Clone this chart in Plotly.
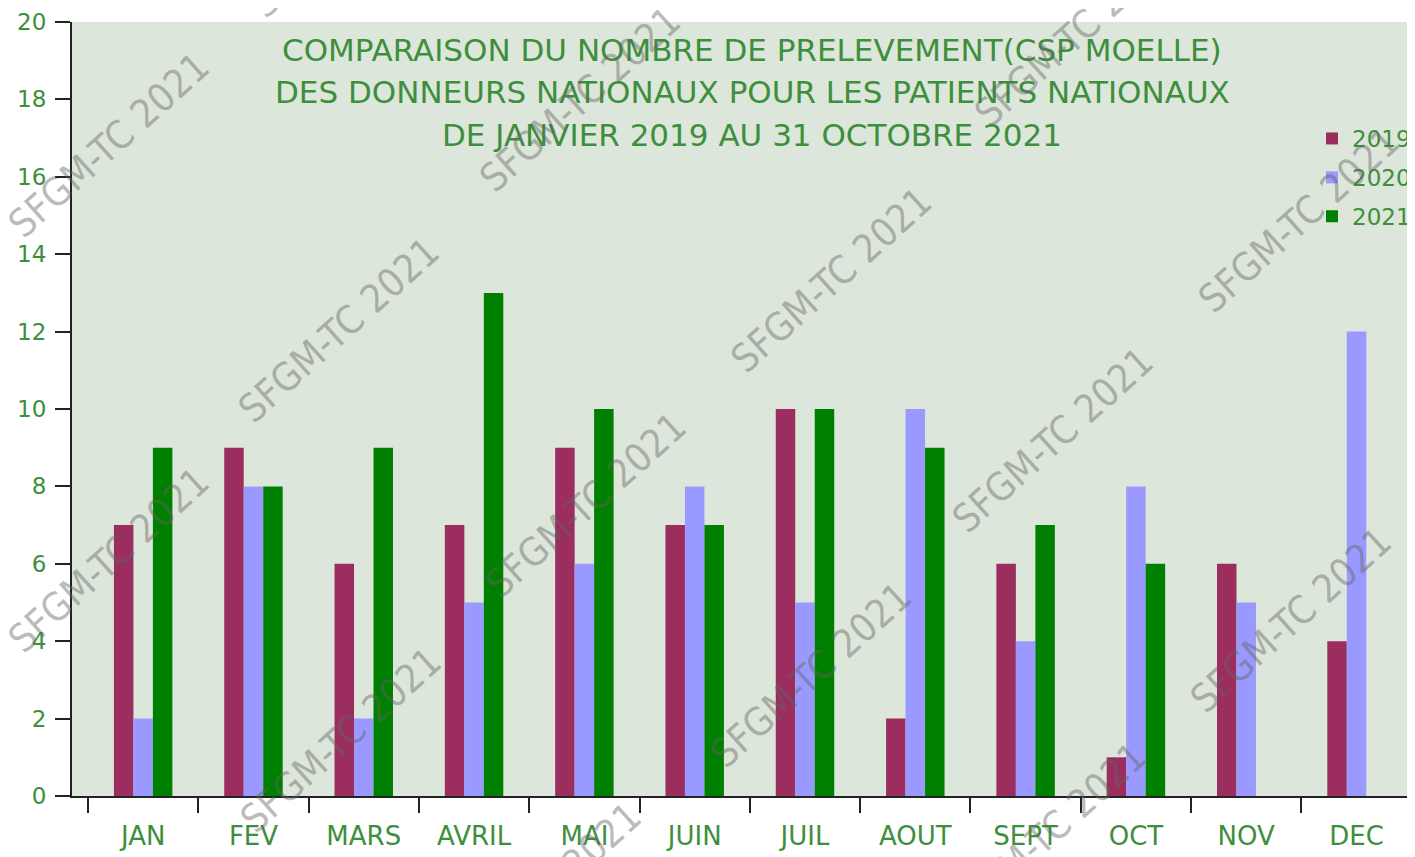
import plotly.graph_objects as go

months = ["JAN", "FEV", "MARS", "AVRIL", "MAI", "JUIN", "JUIL", "AOUT", "SEPT", "OCT", "NOV", "DEC"]
v2019 = [7, 9, 6, 7, 9, 7, 10, 2, 6, 1, 6, 4]
v2020 = [2, 8, 2, 5, 6, 8, 5, 10, 4, 8, 5, 12]
v2021 = [9, 8, 9, 13, 10, 7, 10, 9, 7, 6, 0, 0]
series_names = ["2019", "2020", "2021"]
series_colors = ["#9b2d5f", "#9999ff", "#008000"]

title_lines = [
    "COMPARAISON DU NOMBRE DE PRELEVEMENT(CSP MOELLE)",
    "DES DONNEURS NATIONAUX POUR LES PATIENTS NATIONAUX",
    "DE JANVIER 2019 AU 31 OCTOBRE 2021",
]

wm_text = "SFGM-TC 2021"
# watermark centre positions in page pixel coords (x from left, y from top)
wm_x = [108, 350, 580, 1075, 338, 832, 1298, 1052, 108, 585, 340, 810, 1290, 540, 1045]
wm_y = [145, -75, 100, 35, 330, 280, 220, 440, 560, 505, 740, 675, 620, 895, 835]

OFF = 8  # default page body margin
W, H = 1415 - OFF, 857 - OFF
L, R, T, B = 72 - OFF, 0, 22 - OFF, 61
PW, PH = W - L - R, H - T - B
FONT = "DejaVu Sans, Liberation Sans, Arial, sans-serif"


def px(x):
    return (x - OFF - L) / PW


def py(y):
    return 1 - (y - OFF - T) / PH


fig = go.Figure()
for name, vals, col in zip(series_names, [v2019, v2020, v2021], series_colors):
    fig.add_trace(go.Bar(x=months, y=vals, name=name, legendgroup=name,
                         marker=dict(color=col, line=dict(width=0))))

green = "#3d8f3d"
fig.update_layout(
    width=W, height=H,
    margin=dict(l=L, r=R, t=T, b=B, pad=0, autoexpand=False),
    paper_bgcolor="white",
    plot_bgcolor="#dde6da",
    barmode="group",
    bargap=0.47,
    bargroupgap=0,
    font=dict(family=FONT, color=green),
    legend=dict(
        x=px(1312), y=py(117), xanchor="left", yanchor="top",
        bgcolor="rgba(0,0,0,0)", font=dict(size=23, color=green),
        itemwidth=30, tracegroupgap=6,
    ),
    xaxis=dict(
        range=[-0.645, 11.53],
        showline=True, linecolor="#222", linewidth=2,
        ticks="outside", tickson="boundaries", ticklen=15, tickcolor="#222", tickwidth=2,
        tickfont=dict(size=26, color=green),
        ticklabelstandoff=16,
        showgrid=False, zeroline=False,
    ),
    yaxis=dict(
        range=[0, 20], dtick=2,
        showline=True, linecolor="#222", linewidth=2,
        ticks="outside", ticklen=15, tickcolor="#222", tickwidth=2,
        tickfont=dict(size=23, color=green),
        ticklabelstandoff=4,
        showgrid=False, zeroline=False,
    ),
)

# title
for i, line in enumerate(title_lines):
    fig.add_annotation(
        text=line, xref="paper", yref="paper",
        x=px(752), y=py(50 + 42.5 * i),
        xanchor="center", yanchor="middle", showarrow=False,
        font=dict(size=31, color=green),
    )

# watermarks
for wx, wy in zip(wm_x, wm_y):
    fig.add_annotation(
        text=wm_text, xref="paper", yref="paper",
        x=px(wx), y=py(wy),
        xanchor="center", yanchor="middle", showarrow=False, textangle=-42,
        font=dict(size=39, color="rgba(100,100,100,0.45)", family="DejaVu Sans Condensed, DejaVu Sans, sans-serif"),
    )

fig.write_html("out.html")
